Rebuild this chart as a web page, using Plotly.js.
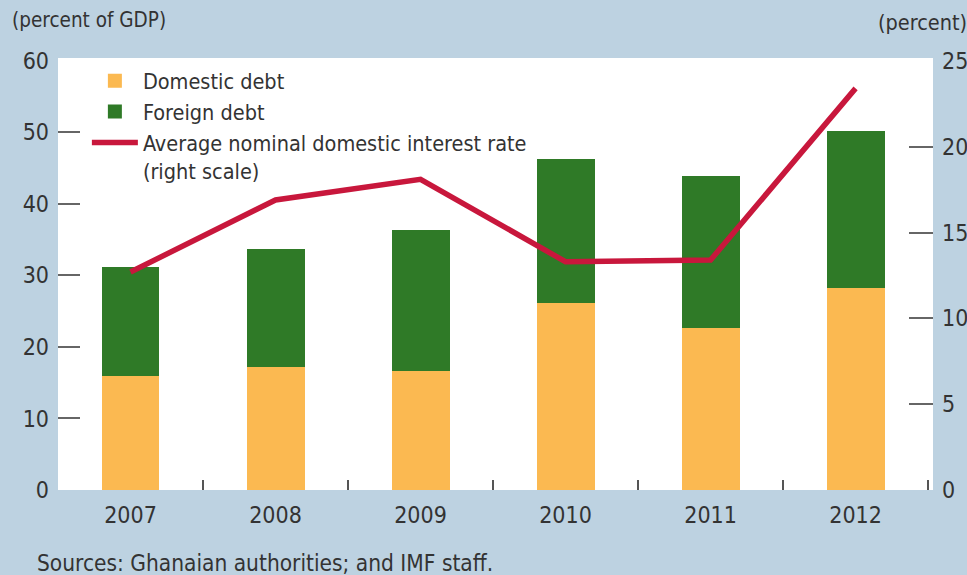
<!DOCTYPE html>
<html>
<head>
<meta charset="utf-8">
<script src="https://cdn.plot.ly/plotly-3.0.1.min.js"></script>
<style>html,body{margin:0;padding:0;background:#bdd2e1;}#chart{width:967px;height:575px;}</style>
</head>
<body>
<div id="chart"></div>
<script>
const years = ["2007", "2008", "2009", "2010", "2011", "2012"];
const domesticDebt = [16.1, 17.4, 16.8, 26.3, 22.8, 28.4];
const foreignDebt = [15.0, 16.2, 19.4, 19.9, 20.9, 21.7];
const interestRate = [12.7, 16.9, 18.1, 13.3, 13.4, 23.4];
const leftTicks = [0, 10, 20, 30, 40, 50, 60];
const rightTicks = [0, 5, 10, 15, 20, 25];

const FONT = "'DejaVu Sans Condensed', 'Liberation Sans Narrow', sans-serif";
const TXT = "#333333";

const traces = [
  {type: "bar", name: "Domestic debt", x: years, y: domesticDebt,
   marker: {color: "#fbb951", line: {width: 2, color: "#fbb951"}}, width: 0.386},
  {type: "bar", name: "Foreign debt", x: years, y: foreignDebt,
   marker: {color: "#2f7a27", line: {width: 2, color: "#2f7a27"}}, width: 0.386},
  {type: "scatter", mode: "lines", name: "Average nominal domestic interest rate<br>(right scale)",
   x: years, y: interestRate, yaxis: "y2",
   line: {color: "#c8173c", width: 5.5}}
];

const layout = {
  width: 967, height: 575,
  paper_bgcolor: "#bdd2e1", plot_bgcolor: "#ffffff",
  margin: {l: 58, r: 34, t: 58, b: 85},
  barmode: "stack",
  showlegend: true,
  font: {family: FONT, size: 23, color: TXT},
  legend: {x: 0.033, y: 0.995, xanchor: "left", yanchor: "top", bgcolor: "rgba(0,0,0,0)",
           traceorder: "normal",
           font: {family: FONT, size: 21.5, color: TXT}, valign: "top", itemwidth: 46, tracegroupgap: 0},
  xaxis: {type: "category", range: [-0.5, 5.534], tickson: "boundaries", ticks: "inside",
          ticklen: 10, tickwidth: 1.5, tickcolor: "#555", showgrid: false, zeroline: false,
          showline: false, ticklabelstandoff: 9, tickfont: {family: FONT, size: 23, color: TXT}},
  yaxis: {range: [0, 60.4], tickvals: leftTicks, ticks: "", showgrid: false, zeroline: false,
          showline: false, ticklabelstandoff: 8, tickfont: {family: FONT, size: 23, color: TXT}},
  yaxis3: {overlaying: "y", side: "left", range: [0, 60.4], tickvals: leftTicks.slice(1, -1),
           ticks: "inside", ticklen: 22, tickwidth: 2, tickcolor: "#666", showticklabels: false,
           showgrid: false, zeroline: false, showline: false},
  yaxis2: {overlaying: "y", side: "right", range: [0, 25.17], tickvals: rightTicks, ticks: "",
           showgrid: false, zeroline: false, showline: false, ticklabelstandoff: 8,
           tickfont: {family: FONT, size: 23, color: TXT}},
  yaxis4: {overlaying: "y", side: "right", range: [0, 25.17], tickvals: rightTicks.slice(1, -1),
           ticks: "inside", ticklen: 24, tickwidth: 2, tickcolor: "#666", showticklabels: false,
           showgrid: false, zeroline: false, showline: false},
  annotations: [
    {text: "(percent of GDP)", xref: "paper", yref: "paper", x: -0.055, y: 1.0, yshift: 38,
     xanchor: "left", yanchor: "middle", showarrow: false, font: {family: FONT, size: 20.5, color: TXT}},
    {text: "(percent)", xref: "paper", yref: "paper", x: 1.0, xshift: 36, y: 1.0, yshift: 36,
     xanchor: "right", yanchor: "middle", showarrow: false, font: {family: FONT, size: 21.5, color: TXT}},
    {text: "Sources: Ghanaian authorities; and IMF staff.", xref: "paper", yref: "paper",
     x: -0.026, y: 0, yshift: -73, xanchor: "left", yanchor: "middle", showarrow: false,
     font: {family: FONT, size: 22.5, color: TXT}}
  ]
};

// invisible helpers bound to the tick-only overlay axes so they render
traces.push({type: "scatter", x: [years[0]], y: [0], yaxis: "y3", mode: "markers",
             marker: {opacity: 0}, showlegend: false, hoverinfo: "skip"});
traces.push({type: "scatter", x: [years[0]], y: [0], yaxis: "y4", mode: "markers",
             marker: {opacity: 0}, showlegend: false, hoverinfo: "skip"});

Plotly.newPlot("chart", traces, layout, {displayModeBar: false, staticPlot: true});
</script>
</body>
</html>
